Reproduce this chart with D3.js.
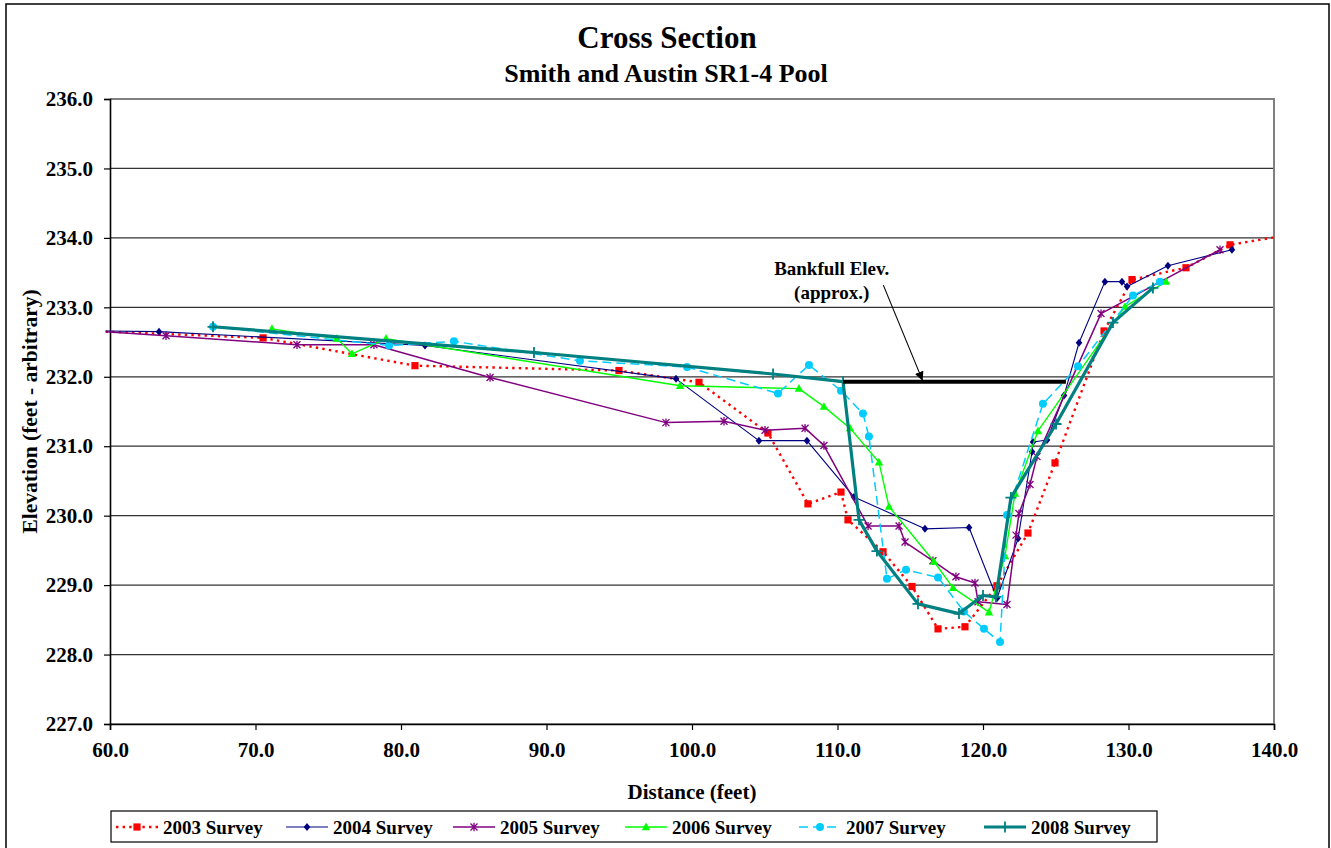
<!DOCTYPE html>
<html>
<head>
<meta charset="utf-8">
<script src="https://cdn.jsdelivr.net/npm/d3@7"></script>
<style>
  body { margin: 0; background: #fff; }
  text { font-family: "Liberation Serif", "Times New Roman", serif; font-weight: bold; fill: #000; }
</style>
</head>
<body>
<svg id="chart" width="1331" height="848"></svg>
<script>
// ---- survey data: distance (ft) and elevation (ft, arbitrary datum) ----
const dist2003 = [59.7, 70.52, 80.96, 94.98, 100.48, 105.22, 107.97, 110.24, 110.72, 113.13, 115.12, 116.91, 118.76, 120.96, 123.09, 124.95, 128.32, 130.24, 133.95, 136.98, 141.5];
const elev2003 = [232.65, 232.56, 232.16, 232.09, 231.92, 231.19, 230.17, 230.34, 229.94, 229.48, 228.98, 228.37, 228.40, 228.99, 229.75, 230.76, 232.66, 233.40, 233.57, 233.90, 234.06];

const dist2004 = [59.7, 63.37, 81.65, 98.90, 104.60, 107.90, 111.13, 116.01, 119.04, 120.96, 122.41, 123.37, 123.44, 124.40, 125.57, 126.60, 128.38, 129.55, 129.90, 132.71, 137.11];
const elev2004 = [232.66, 232.65, 232.45, 231.97, 231.08, 231.08, 230.27, 229.81, 229.83, 228.81, 229.67, 230.92, 231.06, 231.09, 231.73, 232.49, 233.37, 233.37, 233.30, 233.60, 233.83];

const dist2005 = [59.7, 63.85, 72.85, 78.14, 86.12, 98.21, 102.20, 105.02, 107.77, 109.07, 112.10, 114.23, 114.64, 116.56, 118.14, 119.45, 119.66, 121.65, 122.27, 122.47, 123.23, 123.71, 128.11, 136.29];
const elev2005 = [232.65, 232.59, 232.46, 232.46, 231.99, 231.34, 231.36, 231.23, 231.26, 231.01, 229.85, 229.85, 229.62, 229.35, 229.12, 229.03, 228.76, 228.72, 229.72, 230.03, 230.45, 230.85, 232.91, 233.83];

const dist2006 = [71.13, 75.60, 76.63, 78.97, 99.18, 107.35, 109.07, 110.86, 112.85, 113.54, 116.63, 117.94, 120.41, 121.51, 122.20, 123.78, 129.76, 132.58];
const elev2006 = [232.69, 232.55, 232.33, 232.55, 231.87, 231.83, 231.57, 231.26, 230.77, 230.13, 229.34, 228.96, 228.61, 229.42, 230.32, 231.22, 233.01, 233.37];

const dist2007 = [67.08, 79.18, 83.64, 92.30, 99.66, 105.91, 108.04, 110.24, 111.75, 112.16, 113.40, 114.71, 116.91, 118.69, 120.07, 121.17, 121.65, 124.12, 126.53, 130.31, 132.16];
const elev2007 = [232.72, 232.45, 232.51, 232.23, 232.14, 231.76, 232.17, 231.80, 231.47, 231.14, 229.09, 229.22, 229.11, 228.62, 228.37, 228.18, 230.01, 231.61, 232.15, 233.17, 233.37];

const dist2008 = [67.08, 89.14, 105.57, 110.38, 111.48, 112.71, 115.53, 118.35, 120.00, 120.89, 121.92, 125.02, 128.93, 131.68];
const elev2008 = [232.72, 232.35, 232.04, 231.93, 229.94, 229.49, 228.73, 228.59, 228.85, 228.83, 230.26, 231.32, 232.78, 233.28];

const seriesNames = ["2003 Survey", "2004 Survey", "2005 Survey", "2006 Survey", "2007 Survey", "2008 Survey"];

// bankfull elevation marker and its callout
const bankfullElev = 231.93;
const bankfullFrom = 110.38;
const bankfullTo = 125.7;
const calloutLines = ["Bankfull Elev.", "(approx.)"];

const xTickValues = [60, 70, 80, 90, 100, 110, 120, 130, 140];
const yTickValues = [227, 228, 229, 230, 231, 232, 233, 234, 235, 236];

// ---- styling per series ----
const styles = [
  { color: "#FF0000", width: 2.4, dash: "2.4,4.2", marker: "square" },
  { color: "#000080", width: 1.1, dash: null, marker: "diamond" },
  { color: "#800080", width: 1.5, dash: null, marker: "star" },
  { color: "#00FF00", width: 1.4, dash: null, marker: "triangle" },
  { color: "#00CCFF", width: 1.5, dash: "9,5", marker: "circle" },
  { color: "#008080", width: 3.2, dash: null, marker: "plus" }
];

const series = [
  [dist2003, elev2003], [dist2004, elev2004], [dist2005, elev2005],
  [dist2006, elev2006], [dist2007, elev2007], [dist2008, elev2008]
].map(([d, e], i) => ({ name: seriesNames[i], style: styles[i], points: d.map((v, j) => ({ x: v, y: e[j] })) }));

const svg = d3.select("#chart");

// outer chart frame
svg.append("rect").attr("x", 6).attr("y", 4).attr("width", 1323).attr("height", 860)
  .attr("fill", "none").attr("stroke", "#000").attr("stroke-width", 1.5);

const x = d3.scaleLinear().domain([60, 140]).range([110, 1274]);
const y = d3.scaleLinear().domain([227, 236]).range([724, 99]);

// gridlines
svg.append("g").selectAll("line").data(yTickValues.filter(v => v < 236)).join("line")
  .attr("x1", x(60)).attr("x2", x(140)).attr("y1", d => y(d)).attr("y2", d => y(d))
  .attr("stroke", "#333").attr("stroke-width", 1.2);

// plot-area border (top and right)
svg.append("path")
  .attr("d", `M${x(60)},${y(236)}H${x(140)}V${y(227)}`)
  .attr("fill", "none").attr("stroke", "#808080").attr("stroke-width", 2);

// axes
const yAxis = d3.axisLeft(y).tickValues(yTickValues).tickFormat(d3.format(".1f")).tickSize(6).tickPadding(11);
const yg = svg.append("g").attr("transform", `translate(${x(60)},0)`).call(yAxis);
const xAxis = d3.axisBottom(x).tickValues(xTickValues).tickFormat(d3.format(".1f")).tickSize(6).tickPadding(12);
const xg = svg.append("g").attr("transform", `translate(0,${y(227)})`).call(xAxis);
[yg, xg].forEach(g => {
  g.select(".domain").attr("stroke", "#000").attr("stroke-width", 1.6);
  g.selectAll(".tick line").attr("stroke", "#000").attr("stroke-width", 1.2);
  g.selectAll(".tick text").attr("font-size", 21).attr("fill", "#000");
});

// clipping for the survey lines
svg.append("clipPath").attr("id", "plotClip").append("rect")
  .attr("x", 105).attr("y", y(236)).attr("width", x(140) - 105).attr("height", y(227) - y(236));

const markerPath = {
  square: "M-3.6,-3.6H3.6V3.6H-3.6Z",
  diamond: "M0,-4L3.3,0L0,4L-3.3,0Z",
  triangle: "M0,-4.5L4.2,3.2L-4.2,3.2Z",
  star: "M-3.5,-3.5L3.5,3.5M-3.5,3.5L3.5,-3.5M0,-4.2V4.2",
  plus: "M-5.5,0H5.5M0,-5.5V5.5"
};

function drawMarker(g, type, color) {
  if (type === "circle") {
    g.append("circle").attr("r", 4).attr("fill", color);
  } else if (type === "star" || type === "plus") {
    g.append("path").attr("d", markerPath[type]).attr("fill", "none")
      .attr("stroke", color).attr("stroke-width", type === "plus" ? 1.8 : 1.3);
  } else {
    g.append("path").attr("d", markerPath[type]).attr("fill", color);
  }
}

const line = d3.line().x(d => x(d.x)).y(d => y(d.y));
const plot = svg.append("g");

series.forEach(s => {
  const g = plot.append("g");
  g.append("path").datum(s.points)
    .attr("clip-path", "url(#plotClip)")
    .attr("d", line)
    .attr("fill", "none")
    .attr("stroke", s.style.color)
    .attr("stroke-width", s.style.width)
    .attr("stroke-dasharray", s.style.dash)
    .attr("stroke-linejoin", "round");
  s.points.filter(p => p.x >= 60 && p.x <= 140).forEach(p => {
    drawMarker(g.append("g").attr("transform", `translate(${x(p.x)},${y(p.y)})`), s.style.marker, s.style.color);
  });
});

// bankfull line
svg.append("line")
  .attr("x1", x(bankfullFrom)).attr("x2", x(bankfullTo))
  .attr("y1", y(bankfullElev)).attr("y2", y(bankfullElev))
  .attr("stroke", "#000").attr("stroke-width", 4);

// callout text and arrow
const callout = svg.append("text").attr("text-anchor", "middle").attr("font-size", 19);
calloutLines.forEach((t, i) => {
  callout.append("tspan").attr("x", x(109.6)).attr("y", 275 + i * 24).text(t);
});
svg.append("defs").append("marker").attr("id", "arrowHead")
  .attr("viewBox", "0 0 10 10").attr("refX", 10).attr("refY", 5)
  .attr("markerWidth", 9).attr("markerHeight", 9).attr("markerUnits", "userSpaceOnUse")
  .attr("orient", "auto")
  .append("path").attr("d", "M0,0L10,5L0,10Z").attr("fill", "#000");
svg.append("line")
  .attr("x1", x(113.15)).attr("y1", y(233.32))
  .attr("x2", x(115.85)).attr("y2", y(bankfullElev) - 1)
  .attr("stroke", "#000").attr("stroke-width", 1.1)
  .attr("marker-end", "url(#arrowHead)");

// titles
svg.append("text").attr("x", 667).attr("y", 48).attr("text-anchor", "middle").attr("font-size", 31).text("Cross Section");
svg.append("text").attr("x", 666).attr("y", 82).attr("text-anchor", "middle").attr("font-size", 26).text("Smith and Austin SR1-4 Pool");
svg.append("text").attr("x", (x(60) + x(140)) / 2).attr("y", 799).attr("text-anchor", "middle").attr("font-size", 21).text("Distance (feet)");
svg.append("text").attr("transform", `translate(37,${(y(227) + y(236)) / 2}) rotate(-90)`)
  .attr("text-anchor", "middle").attr("font-size", 21.5).text("Elevation (feet - arbitrary)");

// legend
const legend = svg.append("g");
legend.append("rect").attr("x", 111).attr("y", 811).attr("width", 1046).attr("height", 31)
  .attr("fill", "#fff").attr("stroke", "#000").attr("stroke-width", 1.2);
const legendTextX = [163, 333, 500, 672, 846, 1031];
const ly = 827;
series.forEach((s, i) => {
  const g = legend.append("g");
  const tx = legendTextX[i];
  g.append("line").attr("x1", tx - 47).attr("x2", tx - 5).attr("y1", ly).attr("y2", ly)
    .attr("stroke", s.style.color).attr("stroke-width", s.style.width)
    .attr("stroke-dasharray", s.style.dash);
  drawMarker(g.append("g").attr("transform", `translate(${tx - 26},${ly})`), s.style.marker, s.style.color);
  g.append("text").attr("x", tx).attr("y", ly + 6.5).attr("font-size", 19).text(s.name);
});
</script>
</body>
</html>
